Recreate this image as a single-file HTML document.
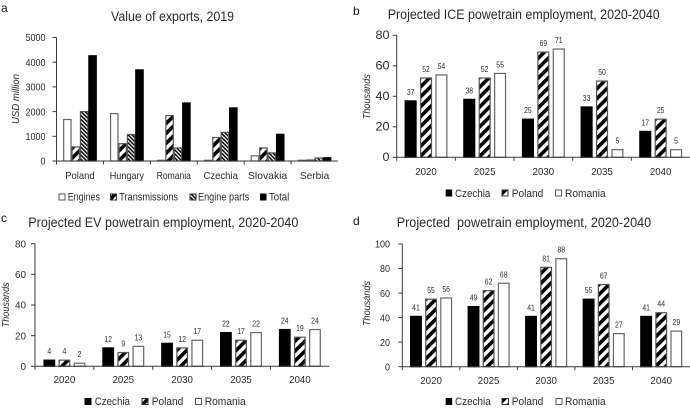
<!DOCTYPE html>
<html>
<head>
<meta charset="utf-8">
<title>Automotive powertrain exports and employment</title>
<style>
html,body{margin:0;padding:0;background:#fff;}
#figure{display:block;width:690px;height:412px;font-family:"Liberation Sans",sans-serif;fill:#2b2b2b;filter:blur(0.3px);}
.title{font-size:13.5px;}
.legend{font-size:11px;}
.letter{font-size:12px;fill:#111;}
.ytitle{font-size:10px;font-style:italic;}
</style>
</head>
<body>
<svg id="figure" xmlns="http://www.w3.org/2000/svg" width="690" height="412" viewBox="0 0 690 412">
  <defs>
    <pattern id="wide-up" patternUnits="userSpaceOnUse" width="7" height="7" patternTransform="rotate(45)">
      <rect width="7" height="7" fill="#fff"></rect>
      <rect width="3.6" height="7" fill="#000"></rect>
    </pattern>
    <pattern id="dense-down" patternUnits="userSpaceOnUse" width="2.8" height="2.8" patternTransform="rotate(-45)">
      <rect width="2.8" height="2.8" fill="#fff"></rect>
      <rect width="1.5" height="2.8" fill="#000"></rect>
    </pattern>
  </defs>

  <rect x="0" y="0" width="690" height="412" fill="#fff"></rect>

  <text class="letter" x="1" y="12">a</text>
  <text class="letter" x="353" y="15">b</text>
  <text class="letter" x="1" y="222">c</text>
  <text class="letter" x="353" y="225">d</text>

  <text class="title" x="111" y="21" textLength="123" lengthAdjust="spacingAndGlyphs">Value of exports, 2019</text>
  <text class="title" x="387.7" y="19" textLength="272" lengthAdjust="spacingAndGlyphs">Projected ICE powetrain employment, 2020-2040</text>
  <text class="title" x="28.3" y="227" textLength="270" lengthAdjust="spacingAndGlyphs">Projected EV powetrain employment, 2020-2040</text>
  <text class="title" x="396.7" y="227" xml:space="preserve" textLength="254.5" lengthAdjust="spacingAndGlyphs">Projected  powetrain employment, 2020-2040</text>

  <text class="ytitle" transform="translate(19,99) rotate(-90)" text-anchor="middle" textLength="50" lengthAdjust="spacingAndGlyphs">USD million</text>
  <text class="ytitle" transform="translate(370,96.7) rotate(-90)" text-anchor="middle" textLength="45" lengthAdjust="spacingAndGlyphs">Thousands</text>
  <text class="ytitle" transform="translate(9,304.8) rotate(-90)" text-anchor="middle" textLength="45" lengthAdjust="spacingAndGlyphs">Thousands</text>
  <text class="ytitle" transform="translate(370,303.5) rotate(-90)" text-anchor="middle" textLength="45" lengthAdjust="spacingAndGlyphs">Thousands</text>

  <g id="legend-a">
    <g><rect x="59" y="194" width="6" height="6" fill="#fff" stroke="#555" stroke-width="1"></rect><text class="legend" x="67.7" y="200.5" textLength="32.3" lengthAdjust="spacingAndGlyphs">Engines</text></g>
    <g><rect x="110.5" y="194" width="6" height="6" fill="url(#wide-up)" stroke="#333" stroke-width="1"></rect><text class="legend" x="119.3" y="200.5" textLength="58.7" lengthAdjust="spacingAndGlyphs">Transmissions</text></g>
    <g><rect x="190" y="194" width="6" height="6" fill="url(#dense-down)" stroke="#333" stroke-width="1"></rect><text class="legend" x="198" y="200.5" textLength="51.3" lengthAdjust="spacingAndGlyphs">Engine parts</text></g>
    <g><rect x="260" y="193.5" width="6.5" height="7" fill="#000"></rect><text class="legend" x="269" y="200.5" textLength="20.3" lengthAdjust="spacingAndGlyphs">Total</text></g>
  </g>
  <g id="legend-b">
    <g><rect x="445.7" y="189.5" width="6.5" height="7" fill="#000"></rect><text class="legend" x="455" y="197" textLength="35.3" lengthAdjust="spacingAndGlyphs">Czechia</text></g>
    <g><rect x="502" y="190" width="6" height="6" fill="url(#wide-up)" stroke="#333" stroke-width="1"></rect><text class="legend" x="511.7" y="197" textLength="31.6" lengthAdjust="spacingAndGlyphs">Poland</text></g>
    <g><rect x="555.5" y="190" width="6" height="6" fill="#fff" stroke="#555" stroke-width="1"></rect><text class="legend" x="565" y="197" textLength="40.7" lengthAdjust="spacingAndGlyphs">Romania</text></g>
  </g>
  <g id="legend-c">
    <g><rect x="84.5" y="398" width="7" height="7" fill="#000"></rect><text class="legend" x="94.7" y="405" textLength="35.3" lengthAdjust="spacingAndGlyphs">Czechia</text></g>
    <g><rect x="142" y="398.5" width="6" height="6" fill="url(#wide-up)" stroke="#333" stroke-width="1"></rect><text class="legend" x="151.7" y="405" textLength="31.6" lengthAdjust="spacingAndGlyphs">Poland</text></g>
    <g><rect x="195.5" y="398.5" width="6" height="6" fill="#fff" stroke="#555" stroke-width="1"></rect><text class="legend" x="204.7" y="405" textLength="41" lengthAdjust="spacingAndGlyphs">Romania</text></g>
  </g>
  <g id="legend-d">
    <g><rect x="445.7" y="398" width="6.5" height="7" fill="#000"></rect><text class="legend" x="455" y="405" textLength="35.7" lengthAdjust="spacingAndGlyphs">Czechia</text></g>
    <g><rect x="502" y="398.5" width="6.5" height="6" fill="url(#wide-up)" stroke="#333" stroke-width="1"></rect><text class="legend" x="511.7" y="405" textLength="31.6" lengthAdjust="spacingAndGlyphs">Poland</text></g>
    <g><rect x="556" y="398.5" width="6" height="6" fill="#fff" stroke="#555" stroke-width="1"></rect><text class="legend" x="565" y="405" textLength="40.7" lengthAdjust="spacingAndGlyphs">Romania</text></g>
  </g>
</svg>

<script>
// Panel a: value of exports, 2019 (USD million)
const exportCountries = ['Poland', 'Hungary', 'Romania', 'Czechia', 'Slovakia', 'Serbia'];
const exportEngines = [1680, 1920, 30, 30, 210, 30];
const exportTransmissions = [570, 700, 1840, 950, 530, 40];
const exportEngineParts = [2000, 1070, 530, 1160, 330, 120];
const exportTotal = [4260, 3690, 2350, 2150, 1080, 130];
const exportTicks = [0, 1000, 2000, 3000, 4000, 5000];

// Shared categories
const projectionYears = ['2020', '2025', '2030', '2035', '2040'];

// Panel b: ICE powertrain employment (thousands)
const iceCzechia = [37, 38, 25, 33, 17];
const icePoland = [52, 52, 69, 50, 25];
const iceRomania = [54, 55, 71, 5, 5];
const iceTicks = [0, 20, 40, 60, 80];

// Panel c: EV powertrain employment (thousands)
const evCzechia = [4, 12, 15, 22, 24];
const evPoland = [4, 9, 12, 17, 19];
const evRomania = [2, 13, 17, 22, 24];
const evTicks = [0, 20, 40, 60, 80];

// Panel d: total powertrain employment (thousands)
const allCzechia = [41, 49, 41, 55, 41];
const allPoland = [55, 62, 81, 67, 44];
const allRomania = [56, 68, 88, 27, 29];
const allTicks = [0, 20, 40, 60, 80, 100];

const SVG_NS = 'http://www.w3.org/2000/svg';
const figure = document.getElementById('figure');

function make(tag, parent) {
  const el = document.createElementNS(SVG_NS, tag);
  parent.appendChild(el);
  return el;
}

function drawLine(parent, x1, y1, x2, y2) {
  const el = make('line', parent);
  el.setAttribute('x1', x1);
  el.setAttribute('y1', y1);
  el.setAttribute('x2', x2);
  el.setAttribute('y2', y2);
  el.setAttribute('stroke', '#3a3a3a');
  el.setAttribute('stroke-width', '1');
  return el;
}

function drawText(parent, x, y, str, size, anchor, width) {
  const el = make('text', parent);
  el.setAttribute('x', x);
  el.setAttribute('y', y);
  el.setAttribute('font-size', size);
  el.setAttribute('text-anchor', anchor);
  if (width) {
    el.setAttribute('textLength', width);
    el.setAttribute('lengthAdjust', 'spacingAndGlyphs');
  }
  el.textContent = str;
  return el;
}

function drawChart(cfg) {
  const group = make('g', figure);
  
  

  const maxTick = cfg.ticks[cfg.ticks.length - 1];
  const yScale = function (v) { return cfg.y0 - (v / maxTick) * (cfg.y0 - cfg.yTop); };
  const step = (cfg.x1 - cfg.x0) / cfg.categories.length;
  const xCenter = function (i) { return cfg.x0 + step * (i + 0.5); };
  const groupWidth = cfg.series.length * cfg.barWidth + (cfg.series.length - 1) * cfg.gap;

  // Bars first so the axis sits on top of them
  cfg.series.forEach(function (s) {
    s.values.forEach(function (v, i) {
      const left = xCenter(i) - groupWidth / 2 + s.index * (cfg.barWidth + cfg.gap);
      const bar = make('rect', group);
      
      
      bar.setAttribute('x', left + 0.5);
      bar.setAttribute('y', yScale(v));
      bar.setAttribute('width', cfg.barWidth - 1);
      bar.setAttribute('height', Math.max(cfg.y0 - yScale(v), 0.5));
      bar.setAttribute('fill', s.fill);
      bar.setAttribute('stroke', s.stroke);
      bar.setAttribute('stroke-width', '1.2');
      if (cfg.showValues) {
        const label = drawText(group, left + cfg.barWidth / 2, yScale(v) - 6, String(v), 8.5, 'middle', String(v).length * 3.8);
        
        
      }
    });
  });

  const xAxis = drawLine(group, cfg.x0, cfg.y0, cfg.x1, cfg.y0);
  
  
  const yAxis = drawLine(group, cfg.x0, cfg.y0, cfg.x0, cfg.yTop);
  
  

  cfg.ticks.forEach(function (t) {
    const mark = drawLine(group, cfg.x0 - 4, yScale(t), cfg.x0, yScale(t));
    
    
    const label = drawText(group, cfg.yLabelX, yScale(t) + 3.7, String(t), cfg.yFont, 'end', String(t).length * cfg.yDigit);
    
    
  });

  cfg.categories.forEach(function (c, i) {
    const mark = drawLine(group, cfg.x0 + step * i, cfg.y0, cfg.x0 + step * i, cfg.y0 + 3.5);
    
    
    const label = drawText(group, xCenter(i) + cfg.xLabelShift, cfg.xLabelY, c, cfg.xFont, 'middle', c.length * cfg.xChar);
    
    
  });
}

const BLACK = { fill: '#000', stroke: '#000' };
const STRIPE = { fill: 'url(#wide-up)', stroke: '#555' };
const WHITE = { fill: '#fff', stroke: '#666' };
const DENSE = { fill: 'url(#dense-down)', stroke: '#555' };

function employmentSeries(cz, pl, ro) {
  return [
    { key: 'czechia', index: 0, values: cz, fill: BLACK.fill, stroke: BLACK.stroke },
    { key: 'poland', index: 1, values: pl, fill: STRIPE.fill, stroke: STRIPE.stroke },
    { key: 'romania', index: 2, values: ro, fill: WHITE.fill, stroke: WHITE.stroke }
  ];
}

drawChart({
  name: 'chart-a-exports',
  categories: exportCountries,
  ticks: exportTicks,
  series: [
    { key: 'engines', index: 0, values: exportEngines, fill: WHITE.fill, stroke: WHITE.stroke },
    { key: 'transmissions', index: 1, values: exportTransmissions, fill: STRIPE.fill, stroke: STRIPE.stroke },
    { key: 'engine-parts', index: 2, values: exportEngineParts, fill: DENSE.fill, stroke: DENSE.stroke },
    { key: 'total', index: 3, values: exportTotal, fill: BLACK.fill, stroke: BLACK.stroke }
  ],
  x0: 56.5, x1: 338, y0: 161, yTop: 37.5,
  barWidth: 8.4, gap: 0, showValues: false,
  yLabelX: 45.5, yFont: 10.5, yDigit: 5,
  xLabelY: 179, xFont: 10.5, xLabelShift: 0, xChar: 4.9
});

drawChart({
  name: 'chart-b-ice-employment',
  categories: projectionYears,
  ticks: iceTicks,
  series: employmentSeries(iceCzechia, icePoland, iceRomania),
  x0: 396.7, x1: 690, y0: 157.3, yTop: 35.3,
  barWidth: 11.9, gap: 3.5, showValues: true,
  yLabelX: 389.5, yFont: 11.5, yDigit: 7,
  xLabelY: 175, xFont: 10.5, xLabelShift: 0, xChar: 5.4
});

drawChart({
  name: 'chart-c-ev-employment',
  categories: projectionYears,
  ticks: evTicks,
  series: employmentSeries(evCzechia, evPoland, evRomania),
  x0: 35, x1: 329.3, y0: 366.3, yTop: 243.7,
  barWidth: 11.6, gap: 3.5, showValues: true,
  yLabelX: 26, yFont: 10.5, yDigit: 5.5,
  xLabelY: 383, xFont: 10.5, xLabelShift: 0, xChar: 5.4
});

drawChart({
  name: 'chart-d-total-employment',
  categories: projectionYears,
  ticks: allTicks,
  series: employmentSeries(allCzechia, allPoland, allRomania),
  x0: 402.3, x1: 690, y0: 366.7, yTop: 244,
  barWidth: 11.7, gap: 3.4, showValues: true,
  yLabelX: 390, yFont: 10.5, yDigit: 5,
  xLabelY: 384, xFont: 10.5, xLabelShift: 0, xChar: 5.4
});
</script>
</body>
</html>
